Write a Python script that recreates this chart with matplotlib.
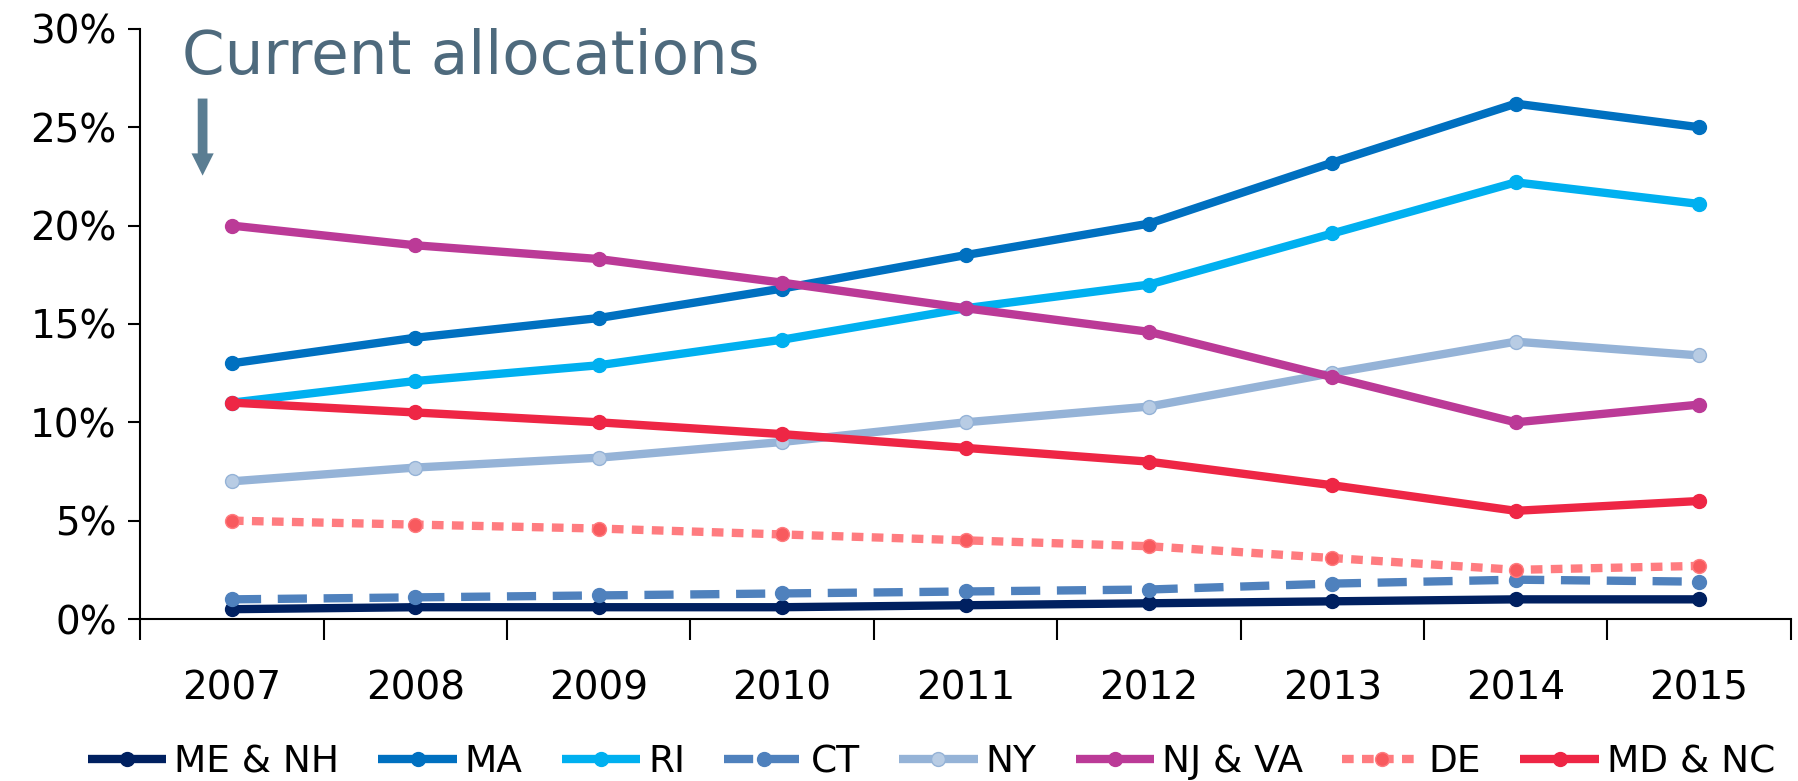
import numpy as np
import matplotlib.pyplot as plt
from matplotlib.ticker import FixedLocator, FuncFormatter

## ------------------
## Data
## ------------------
years = ["2007", "2008", "2009", "2010", "2011", "2012", "2013", "2014", "2015"]
me_nh = [0.5, 0.6, 0.6, 0.6, 0.7, 0.8, 0.9, 1.0, 1.0]
ma = [13.0, 14.3, 15.3, 16.8, 18.5, 20.1, 23.2, 26.2, 25.0]
ri = [11.0, 12.1, 12.9, 14.2, 15.8, 17.0, 19.6, 22.2, 21.1]
ct = [1.0, 1.1, 1.2, 1.3, 1.4, 1.5, 1.8, 2.0, 1.9]
ny = [7.0, 7.7, 8.2, 9.0, 10.0, 10.8, 12.5, 14.1, 13.4]
nj_va = [20.0, 19.0, 18.3, 17.1, 15.8, 14.6, 12.3, 10.0, 10.9]
de = [5.0, 4.8, 4.6, 4.3, 4.0, 3.7, 3.1, 2.5, 2.7]
md_nc = [11.0, 10.5, 10.0, 9.4, 8.7, 8.0, 6.8, 5.5, 6.0]

## (label, values, line colour, marker colour, dash)
series = [
    ("ME & NH", me_nh, "#002060", "#002060", "-"),
    ("MA", ma, "#0070C0", "#0070C0", "-"),
    ("RI", ri, "#00B0F0", "#00B0F0", "-"),
    ("CT", ct, "#4F81BD", "#4F81BD", (0, (3.5, 2.0))),
    ("NY", ny, "#95B3D7", "#B8CCE4", "-"),
    ("NJ & VA", nj_va, "#BB3A97", "#BB3A97", "-"),
    ("DE", de, "#FF7C80", "#F85A5E", (0, (1.4, 1.0))),
    ("MD & NC", md_nc, "#EE2645", "#EE2645", "-"),
]

plt.rcParams['font.family'] = ['DejaVu Sans']

fig = plt.figure(figsize=(17.98, 7.81), dpi=100)
ax = fig.add_axes([0.078, 0.2074, 0.918, 0.7556])

x = np.arange(len(years))
for label, vals, col, mcol, ls in series:
    ax.plot(x, vals, color=col, lw=6, linestyle=ls, marker="o", markersize=10,
            markerfacecolor=mcol, markeredgecolor=col, markeredgewidth=1,
            label=label, solid_capstyle="butt", dash_capstyle="butt", clip_on=False)

ax.set_xlim(-0.5, len(years) - 0.5)
ax.set_ylim(0, 30)
ax.set_yticks(np.arange(0, 31, 5))
ax.yaxis.set_major_formatter(FuncFormatter(lambda v, p: f"{v:.0f}%"))
ax.tick_params(axis="y", labelsize=28, length=9, width=1.5, direction="out", pad=8)

## year labels at centres, tick marks at boundaries
ax.set_xticks(x)
ax.set_xticklabels(years)
ax.xaxis.set_minor_locator(FixedLocator(np.arange(-0.5, len(years), 1.0)))
ax.tick_params(axis="x", which="major", length=0, labelsize=28, pad=36)
ax.tick_params(axis="x", which="minor", length=15, width=1.5, direction="out")

for s in ["top", "right"]:
    ax.spines[s].set_visible(False)
for s in ["left", "bottom"]:
    ax.spines[s].set_linewidth(1.5)
    ax.spines[s].set_color("black")

## annotation
ax.text(-0.275, 27.7, "Current allocations", fontsize=44, color="#4E6A7D",
        ha="left", va="baseline", clip_on=False)
ax.annotate("", xy=(-0.16, 22.4), xytext=(-0.16, 26.6),
            arrowprops=dict(arrowstyle="simple,head_width=1.6,head_length=1.6,tail_width=0.7",
                            color="#5A7D92", lw=0), annotation_clip=False)

fig.legend(loc="lower center", bbox_to_anchor=(0.518, -0.028), ncol=8, frameon=False,
           fontsize=27, handlelength=2.1, handletextpad=0.2, columnspacing=1.05,
           borderaxespad=0.2)

fig.savefig("out.png", dpi=100)
